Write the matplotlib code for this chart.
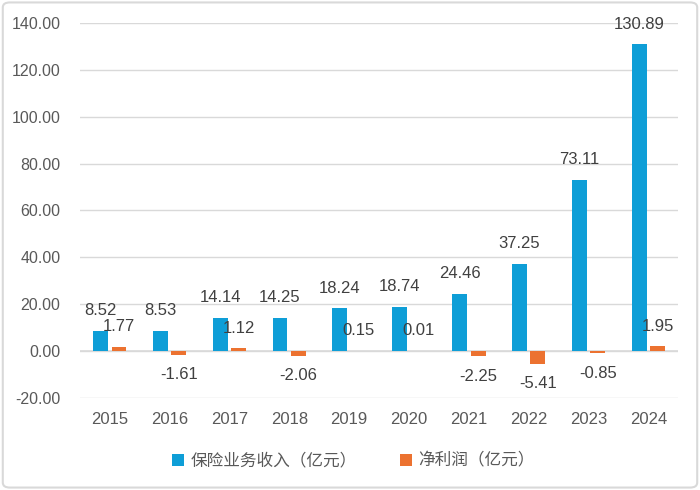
import matplotlib
matplotlib.use("Agg")
import matplotlib.pyplot as plt
from matplotlib.patches import FancyBboxPatch
import numpy as np

plt.rcParams['font.family'] = ['Liberation Sans', 'Noto Sans CJK SC', 'DejaVu Sans']

years = ["2015", "2016", "2017", "2018", "2019", "2020", "2021", "2022", "2023", "2024"]
revenue = [8.52, 8.53, 14.14, 14.25, 18.24, 18.74, 24.46, 37.25, 73.11, 130.89]
profit = [1.77, -1.61, 1.12, -2.06, 0.15, 0.01, -2.25, -5.41, -0.85, 1.95]
series_names = ["保险业务收入（亿元）", "净利润（亿元）"]
yticks = [-20, 0, 20, 40, 60, 80, 100, 120, 140]

blue = "#0E9ED7"
orange = "#EC7230"
grid_c = "#D9D9D9"
tick_c = "#595959"
label_c = "#404040"

fig = plt.figure(figsize=(7, 4.9), dpi=100)
ax = fig.add_axes([0.114, 0.188, 0.855, 0.765])

x = np.arange(len(years))
w = 0.25
off = 0.155
b1 = ax.bar(x - off, revenue, w, color=blue, label=series_names[0], zorder=3)
b2 = ax.bar(x + off, profit, w, color=orange, label=series_names[1], zorder=3)

for rects, vals in ((b1, revenue), (b2, profit)):
    for r, v in zip(rects, vals):
        cx = r.get_x() + r.get_width() / 2
        dy = 14.5 if v >= 0 else -14.5
        ax.annotate(f"{v:.2f}", (cx, v), xytext=(0, dy), textcoords="offset points",
                    ha="center", va="center", fontsize=12, color=label_c, zorder=4)

ax.set_xlim(-0.5, len(years) - 0.5)
ax.set_ylim(-20, 140)
ax.set_yticks(yticks)
ax.set_yticklabels([f"{t:.2f}" for t in yticks])
ax.set_xticks(x)
ax.set_xticklabels(years)
ax.tick_params(axis='both', length=0, colors=tick_c)
ax.tick_params(axis='x', pad=10, labelsize=12)
ax.tick_params(axis='y', pad=14, labelsize=11.5)
ax.grid(axis='y', color=grid_c, linewidth=1, zorder=0)
ax.axhline(0, color=grid_c, linewidth=1.2, zorder=2)
for s in ax.spines.values():
    s.set_visible(False)

leg = fig.legend(handles=[b1, b2], loc="center", bbox_to_anchor=(0.505, 0.06), ncol=2,
                 frameon=False, fontsize=12, handlelength=0.7, handleheight=0.7,
                 handletextpad=0.4, columnspacing=2.6)
for t in leg.get_texts():
    t.set_color(tick_c)

border = FancyBboxPatch((0.004, 0.005), 0.992, 0.99, boxstyle="round,pad=0,rounding_size=0.01",
                        transform=fig.transFigure, facecolor="none", edgecolor="#D9D9D9",
                        linewidth=1.5, zorder=10)
fig.patches.append(border)

fig.savefig("out.png", dpi=100)
